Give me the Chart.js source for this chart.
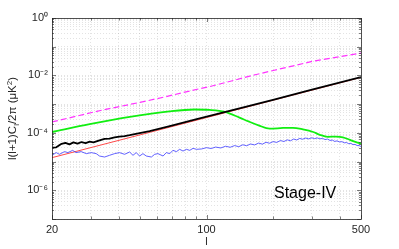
<!DOCTYPE html>
<html><head><meta charset="utf-8">
<script src="https://cdn.jsdelivr.net/npm/chart.js@4.4.1/dist/chart.umd.min.js"></script>
<style>html,body{margin:0;padding:0;background:#fff}#wrap{width:399px;height:249px}</style>
</head><body><div id="wrap"><canvas id="c" width="399" height="249"></canvas></div>
<script>
// ---- data ----
const magentaL = [20, 34, 50, 64, 93, 103, 168, 304, 500];
const magentaV = [2.4e-4, 6.3e-4, 1.15e-3, 1.75e-3, 3.44e-3, 4.05e-3, 1.08e-2, 3.14e-2, 6.0e-2];

const greenL = [20, 29.6, 45, 68, 88, 103, 121, 141, 155, 172, 193, 222, 246, 273, 304, 326, 354, 385, 414, 446, 475, 500];
const greenV = [1.07e-4, 2.0e-4, 3.6e-4, 5.6e-4, 6.5e-4, 6.3e-4, 5.4e-4, 3.4e-4, 2.5e-4, 1.83e-4, 1.4e-4, 1.48e-4, 1.5e-4, 1.32e-4, 1.07e-4, 8.5e-5, 7.3e-5, 7.4e-5, 7.0e-5, 5.7e-5, 4.75e-5, 4.2e-5];

const blackL = [20, 20.9, 22.1, 23.0, 24.0, 25.0, 26.1, 27.2, 28.4, 29.6, 30.8, 32.8, 34.6, 36.4, 38.4, 40.4, 42.6, 44.9, 55.3, 68.2, 90.3, 141, 200, 300, 500];
const blackV = [3.05e-5, 3.13e-5, 4.14e-5, 4.49e-5, 3.98e-5, 4.67e-5, 4.21e-5, 4.79e-5, 4.42e-5, 4.94e-5, 4.67e-5, 5.49e-5, 6.18e-5, 6.28e-5, 6.97e-5, 7.37e-5, 7.74e-5, 8.32e-5, 1.16e-4, 1.73e-4, 3.0e-4, 7.1e-4, 1.42e-3, 3.2e-3, 8.8e-3];

const redL = [20, 50, 100, 200, 500];
const redV = [1.37e-5, 8.5e-5, 3.4e-4, 1.37e-3, 8.55e-3];

const blueL = [20, 20.9, 21.6, 22.8, 23.6, 24.8, 25.7, 27.1, 28.6, 30.1, 31.7, 32.8, 34.6, 36.4, 38.4, 40.4, 42.6, 44.9, 46.5, 48.1, 49.8, 51.6, 53.4, 56.3, 58.3, 60.3, 63.6, 65.8, 68.2, 70.5, 73.1, 75.6, 78.3, 81.1, 84.0, 86.9, 90.0,
  95, 100, 105, 110, 116, 122, 128, 134, 140, 146, 152, 158, 165, 172, 179, 186, 193, 200, 208, 216, 224, 232, 240, 248, 256, 264, 272, 281, 290, 299, 308, 317, 326, 335, 344, 353, 362, 371, 380, 390, 400, 410, 420, 430, 440, 450, 460, 470, 480, 490, 500];
const blueV = [1.65e-5, 2.05e-5, 1.79e-5, 2.22e-5, 2.05e-5, 2.46e-5, 2.05e-5, 2.22e-5, 1.89e-5, 2.05e-5, 1.89e-5, 1.56e-5, 1.44e-5, 1.65e-5, 1.89e-5, 2.05e-5, 1.79e-5, 2.15e-5, 1.65e-5, 2.05e-5, 1.56e-5, 1.89e-5, 1.56e-5, 1.44e-5, 1.79e-5, 1.89e-5, 1.56e-5, 2.05e-5, 1.89e-5, 2.46e-5, 2.22e-5, 2.67e-5, 2.33e-5, 2.67e-5, 2.46e-5, 2.89e-5, 2.67e-5,
  2.75e-5, 3.05e-5, 2.85e-5, 3.20e-5, 2.98e-5, 3.42e-5, 3.15e-5, 3.60e-5, 3.30e-5, 3.85e-5, 3.55e-5, 4.10e-5, 3.80e-5, 4.40e-5, 4.05e-5, 4.70e-5, 4.35e-5, 4.95e-5, 4.65e-5, 5.40e-5, 5.00e-5, 5.70e-5, 5.30e-5, 6.10e-5, 5.65e-5, 6.40e-5, 6.00e-5, 6.60e-5, 6.15e-5, 6.75e-5, 6.30e-5, 6.65e-5, 6.20e-5, 6.40e-5, 5.85e-5, 6.05e-5, 5.45e-5, 5.60e-5, 5.05e-5, 5.25e-5, 4.80e-5, 4.95e-5, 4.50e-5, 4.60e-5, 4.20e-5, 4.30e-5, 3.90e-5, 3.95e-5, 3.62e-5, 3.60e-5, 3.35e-5];

const xTickValues = [20, 100, 500];
const xTickLabels = ['20', '100', '500'];
const yTickValues = [1, 1e-2, 1e-4, 1e-6];
const yTickLabels = ['10\u2070', '10\u207B\u00B2', '10\u207B\u2074', '10\u207B\u2076'];
const xTitle = 'l';
// y title pieces: [text, kind] kind: n = normal, sub = subscript, sup = superscript
const yTitleParts = [['l(l+1)C', 'n'], ['l', 'sub'], ['/2\u03C0 (\u03BCK', 'n'], ['2', 'sup'], [')', 'n']];
const panelLabel = 'Stage-IV';

// ---- helpers ----
const pts = (L, V) => L.map((x, i) => ({x, y: V[i]}));
const xGrid = [];
for (let v = 20; v <= 100; v += 10) xGrid.push(v);
for (let v = 200; v <= 500; v += 100) xGrid.push(v);
const yGrid = [];
for (let k = -7; k <= 0; k++) for (let m = 1; m <= 9; m++) { const v = m * Math.pow(10, k); if (v <= 1.0000001) yGrid.push(v); }
const near = (a, b) => Math.abs(a - b) <= Math.abs(b) * 1e-6;
const FONT = 'Liberation Sans, Arial, Helvetica, sans-serif';
const TXT = '#262626';

const boxPlugin = {
  id: 'box',
  afterDraw(chart) {
    const {ctx, chartArea: a, scales: {x, y}} = chart;
    ctx.save();
    // inward tick marks
    ctx.strokeStyle = TXT; ctx.lineWidth = 0.6;
    ctx.beginPath();
    xGrid.forEach(v => {
      const px = Math.round(x.getPixelForValue(v)) + 0.5;
      const len = xTickValues.some(t => near(v, t)) ? 4 : 2.5;
      ctx.moveTo(px, a.bottom); ctx.lineTo(px, a.bottom - len);
      ctx.moveTo(px, a.top); ctx.lineTo(px, a.top + len);
    });
    yGrid.forEach(v => {
      const py = Math.round(y.getPixelForValue(v)) + 0.5;
      const major = Math.abs(Math.log10(v) - Math.round(Math.log10(v))) < 1e-6;
      const len = major ? 4 : 2;
      ctx.moveTo(a.left, py); ctx.lineTo(a.left + len, py);
      ctx.moveTo(a.right, py); ctx.lineTo(a.right - len, py);
    });
    ctx.stroke();
    ctx.strokeStyle = '#262626'; ctx.lineWidth = 0.8;
    ctx.strokeRect(Math.round(a.left) + 0.5, Math.round(a.top) + 0.5, Math.round(a.right - a.left), Math.round(a.bottom - a.top));
    // panel label
    ctx.fillStyle = '#000';
    ctx.font = '16px ' + FONT;
    ctx.textAlign = 'left'; ctx.textBaseline = 'alphabetic';
    ctx.fillText(panelLabel, 274, 198);
    // y axis title with sub/superscripts
    const fN = '11.5px ' + FONT, fS = '8px ' + FONT;
    let total = 0;
    yTitleParts.forEach(([t, k]) => { ctx.font = k === 'n' ? fN : fS; total += ctx.measureText(t).width; });
    ctx.translate(16, (a.top + a.bottom) / 2);
    ctx.rotate(-Math.PI / 2);
    ctx.fillStyle = TXT;
    let cx = -total / 2;
    yTitleParts.forEach(([t, k]) => {
      ctx.font = k === 'n' ? fN : fS;
      const dy = k === 'sub' ? 3 : (k === 'sup' ? -4.5 : 0);
      ctx.fillText(t, cx, dy);
      cx += ctx.measureText(t).width;
    });
    ctx.restore();
  }
};

const common = {pointRadius: 0, fill: false, tension: 0, borderJoinStyle: 'round'};
new Chart(document.getElementById('c'), {
  type: 'line',
  data: {
    datasets: [
      {...common, data: pts(blackL, blackV), borderColor: '#000000', borderWidth: 1.8},
      {...common, data: pts(greenL, greenV), borderColor: '#11ee11', borderWidth: 1.8, cubicInterpolationMode: 'monotone'},
      {...common, data: pts(blueL, blueV), borderColor: '#3a3aff', borderWidth: 0.8},
      {...common, data: pts(redL, redV), borderColor: '#ff4a4a', borderWidth: 1},
      {...common, data: pts(magentaL, magentaV), borderColor: '#ff33ff', borderWidth: 1.2, borderDash: [6, 3]}
    ]
  },
  options: {
    responsive: false, animation: false, devicePixelRatio: 1,
    layout: {padding: {left: 0, right: 38, top: 18, bottom: 0}},
    plugins: {legend: {display: false}, tooltip: {enabled: false}},
    scales: {
      x: {
        type: 'logarithmic', min: 20, max: 500,
        afterBuildTicks: s => { s.ticks = xGrid.map(v => ({value: v})); },
        afterFit: s => { s.height = 30; },
        ticks: {autoSkip: false, maxRotation: 0, padding: 4, color: TXT, font: {family: FONT, size: 11},
          callback: v => { const i = xTickValues.findIndex(t => near(v, t)); return i >= 0 ? xTickLabels[i] : ''; }},
        grid: {color: 'rgba(0,0,0,0.16)', lineWidth: 0.7, drawTicks: false},
        border: {display: false, dash: [1, 2]},
        title: {display: true, text: xTitle, color: TXT, font: {family: FONT, size: 11}, padding: {top: 0, bottom: 0}}
      },
      y: {
        type: 'logarithmic', min: 1e-7, max: 1,
        afterBuildTicks: s => { s.ticks = yGrid.map(v => ({value: v})); },
        afterFit: s => { s.width = 52; },
        ticks: {autoSkip: false, padding: 4, color: TXT, font: {family: FONT, size: 11},
          callback: v => { const i = yTickValues.findIndex(t => near(v, t)); return i >= 0 ? yTickLabels[i] : ''; }},
        grid: {color: 'rgba(0,0,0,0.16)', lineWidth: 0.7, drawTicks: false},
        border: {display: false, dash: [1, 2]},
        title: {display: false}
      }
    }
  },
  plugins: [boxPlugin]
});
</script></body></html>
